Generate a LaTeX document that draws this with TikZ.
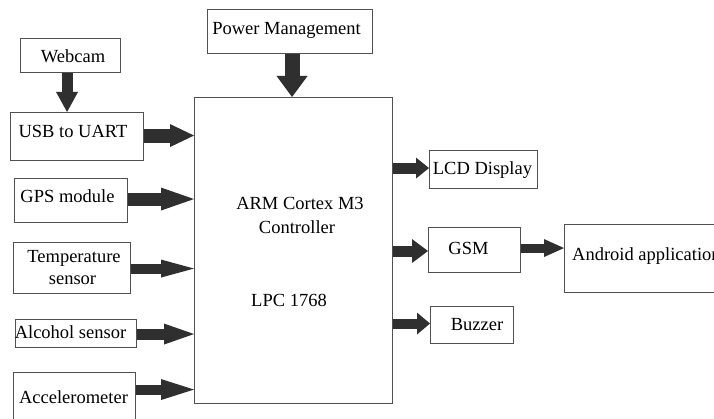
\documentclass[tikz,border=0pt]{standalone}
\usepackage{fontspec}
\setmainfont{Liberation Serif}
\usetikzlibrary{arrows.meta}
\definecolor{arrcol}{HTML}{2F2F2F}
\definecolor{boxcol}{HTML}{505050}
\begin{document}
\begin{tikzpicture}[x=1pt,y=-1pt,
  box/.style={draw=boxcol,line width=1.1pt,rectangle,inner sep=0pt,anchor=north west},
  txt/.style={inner sep=0pt,anchor=base,font=\fontsize{18.5}{22}\selectfont},
  arr/.style n args={3}{draw=arrcol,line width=#1pt,
     -{Triangle[width=#2pt,length=#3pt,line width=0pt,fill=arrcol]}}]
\useasboundingbox (0,0) rectangle (714,419);
\clip (0,0) rectangle (714,419);
\fill[white] (0,0) rectangle (714,419);
% boxes
\node[box,minimum width=100pt,minimum height=34pt] (webcam) at (20,38) {};
\node[box,minimum width=165pt,minimum height=44pt] (power) at (207,9) {};
\node[box,minimum width=133pt,minimum height=48pt] (usb) at (10,112) {};
\node[box,minimum width=113pt,minimum height=44pt] (gps) at (14,178) {};
\node[box,minimum width=117pt,minimum height=51pt] (temp) at (13,242) {};
\node[box,minimum width=121pt,minimum height=28pt] (alc) at (15,319) {};
\node[box,minimum width=122pt,minimum height=52pt] (acc) at (13,372) {};
\node[box,minimum width=198pt,minimum height=306pt] (main) at (194,97) {};
\node[box,minimum width=108pt,minimum height=38pt] (lcd) at (429,150) {};
\node[box,minimum width=92pt,minimum height=45pt] (gsm) at (428,227) {};
\node[box,minimum width=160pt,minimum height=68pt] (android) at (564,224) {};
\node[box,minimum width=83pt,minimum height=37pt] (buzz) at (430,306) {};
% texts
\node[txt] (t1) at (73,63) {Webcam};
\node[txt] (t2) at (286.5,35) {Power Management};
\node[txt] (t3) at (73,138) {USB to UART};
\node[txt] (t4) at (67.5,203) {GPS module};
\node[txt] (t5a) at (74,263) {Temperature};
\node[txt] (t5b) at (72.5,284) {sensor};
\node[txt] (t6) at (70.5,338) {Alcohol sensor};
\node[txt] (t7) at (73.5,403) {Accelerometer};
\node[txt] (t8a) at (300,210) {ARM Cortex M3};
\node[txt] (t8b) at (297,234) {Controller};
\node[txt] (t8c) at (289,306) {LPC 1768};
\node[txt] (t9) at (482.5,175) {LCD Display};
\node[txt] (t10) at (468.5,255) {GSM};
\node[txt,anchor=base west] (t11) at (572,261) {Android application};
\node[txt] (t12) at (477,330) {Buzzer};
% connector coordinates
\coordinate (cw) at ([xshift=-3.5pt]webcam.south);
\coordinate (cp) at ([xshift=2pt]power.south);
\coordinate (cu) at ([yshift=1pt]usb.east);
\coordinate (cg) at ([yshift=1.5pt]gps.east);
\coordinate (ct) at ([yshift=-0.5pt]temp.east);
\coordinate (ca) at ([yshift=-0.5pt]alc.east);
\coordinate (cc) at ([yshift=9pt]acc.east);
\coordinate (cl) at ([yshift=1.5pt]lcd.west);
\coordinate (cs) at ([yshift=-1pt]gsm.west);
\coordinate (cb) at ([yshift=1.5pt]buzz.west);
\coordinate (cga) at ([yshift=2pt]gsm.east);
% connectors
\draw[arr={11}{22}{20}] (cw) -- (cw |- usb.north);
\draw[arr={15}{31}{21}] (cp) -- (cp |- main.north);
\draw[arr={14}{23}{24}] (cu) -- (cu -| main.west);
\draw[arr={13}{23}{33}] (cg) -- (cg -| main.west);
\draw[arr={10}{18}{33}] (ct) -- (ct -| main.west);
\draw[arr={11}{21}{30}] (ca) -- (ca -| main.west);
\draw[arr={10}{21}{33}] (cc) -- (cc -| main.west);
\draw[arr={11}{21}{13}] (cl -| main.east) -- (cl);
\draw[arr={11}{24}{16}] (cs -| main.east) -- (cs);
\draw[arr={10}{22}{13}] (cb -| main.east) -- (cb);
\draw[arr={9}{18}{20}] (cga) -- (cga -| android.west);
\end{tikzpicture}
\end{document}
